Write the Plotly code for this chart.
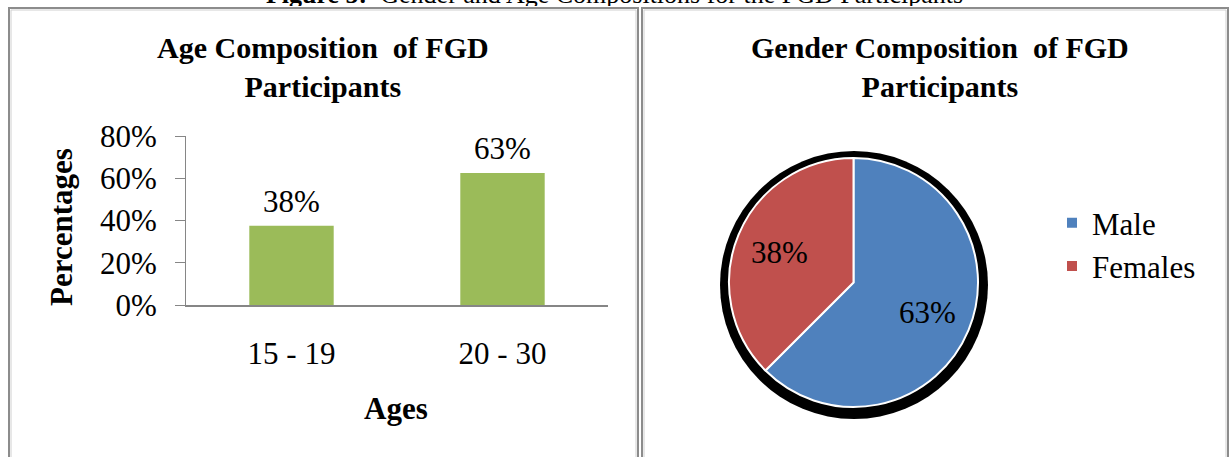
import math
import plotly.graph_objects as go

# ---- data ----
age_groups = ["15 - 19", "20 - 30"]
age_shares = [0.375, 0.625]
gender_labels = ["Male", "Females"]
gender_shares = [62.5, 37.5]
gender_colors = ["#4F81BD", "#C0504D"]
y_ticks = [0, 0.2, 0.4, 0.6, 0.8]
caption = "<b>Figure 5:</b>  Gender and Age Compositions for the FGD Participants"

W, H = 1229, 457
FONT = "Liberation Serif, Times New Roman, serif"

def px(x):
    return x / W

def py(y):
    return 1 - y / H

def pct(v):
    return f"{int(v * 100 + 0.5)}%"

fig = go.Figure()

fig.add_trace(go.Bar(
    x=age_groups, y=age_shares, marker=dict(color="#9BBB59", line=dict(width=0)),
    width=0.4, showlegend=False, hoverinfo="skip",
))

# caption, clipped to a thin strip at the top (only its lower part shows)
fig.add_trace(go.Scatter(
    x=[0.5], y=[-1.1], mode="text", text=[caption], textposition="top center",
    cliponaxis=True, showlegend=False, hoverinfo="skip",
    textfont=dict(family=FONT, size=26, color="black"),
    xaxis="x2", yaxis="y2",
))

# pie geometry (pixels)
PCX, PCY, PR = 853.5, 282.5, 124.5

# shadow behind pie
fig.add_trace(go.Pie(
    values=[1], labels=["shadow"], marker=dict(colors=["#000000"], line=dict(width=0)),
    textinfo="none", showlegend=False, hoverinfo="skip", sort=False,
    domain=dict(x=[px(720), px(988)], y=[py(419), py(151)]),
))

fig.add_trace(go.Pie(
    values=gender_shares, labels=gender_labels,
    marker=dict(colors=gender_colors, line=dict(color="white", width=2)),
    sort=False, direction="clockwise", rotation=0,
    textinfo="none", hoverinfo="skip",
    domain=dict(x=[px(PCX - PR), px(PCX + PR)], y=[py(PCY + PR), py(PCY - PR)]),
))

annotations = []
for cat, v in zip(age_groups, age_shares):
    annotations.append(dict(x=cat, y=v, xref="x", yref="y", text=pct(v), showarrow=False,
                            xanchor="center", yanchor="bottom", yshift=5,
                            font=dict(family=FONT, size=31, color="black")))

# pie slice labels at 0.64 R along each slice's mid-angle
total = sum(gender_shares)
cum = 0.0
for s in gender_shares:
    mid = (cum + s / 2) / total * 2 * math.pi
    cum += s
    lx = PCX + 0.64 * PR * math.sin(mid)
    ly = PCY - 0.64 * PR * math.cos(mid)
    annotations.append(dict(x=px(lx), y=py(ly), xref="paper", yref="paper", showarrow=False,
                            xanchor="center", yanchor="middle", text=pct(s / total),
                            font=dict(family=FONT, size=31, color="black")))

annotations += [
    dict(x=px(323), y=py(67), xref="paper", yref="paper", showarrow=False,
         xanchor="center", yanchor="middle",
         text="<b>Age Composition  of FGD<br>Participants</b>",
         font=dict(family=FONT, size=30, color="black")),
    dict(x=px(940), y=py(67), xref="paper", yref="paper", showarrow=False,
         xanchor="center", yanchor="middle",
         text="<b>Gender Composition  of FGD<br>Participants</b>",
         font=dict(family=FONT, size=30, color="black")),
    dict(x=px(61), y=py(227), xref="paper", yref="paper", showarrow=False, textangle=-90,
         xanchor="center", yanchor="middle",
         text="<b>Percentages</b>", font=dict(family=FONT, size=31, color="black")),
    dict(x=px(396), y=py(408), xref="paper", yref="paper", showarrow=False,
         xanchor="center", yanchor="middle",
         text="<b>Ages</b>", font=dict(family=FONT, size=31, color="black")),
]

shapes = []
for (x0, x1) in [(9, 638), (642, 1228)]:
    for off, col, wd in [(0, "#8C8C8C", 2), (2, "#D0D0D0", 1)]:
        shapes.append(dict(type="path", xref="paper", yref="paper",
                           path=f"M {px(x0 + off)} 0 L {px(x0 + off)} {py(8 + off)} "
                                f"L {px(x1 - off)} {py(8 + off)} L {px(x1 - off)} 0",
                           line=dict(color=col, width=wd)))

fig.update_layout(
    width=W, height=H, margin=dict(l=0, r=0, t=0, b=0, autoexpand=False),
    paper_bgcolor="white", plot_bgcolor="rgba(0,0,0,0)",
    font=dict(family=FONT, size=31, color="black"),
    bargap=0.6,
    xaxis=dict(domain=[px(186), px(608)], showline=True, linecolor="#868686", linewidth=2,
               ticks="", showgrid=False, zeroline=False, ticklabelstandoff=20,
               tickfont=dict(family=FONT, size=31, color="black")),
    yaxis=dict(domain=[py(305), py(136)], range=[0, 0.8], tickvals=y_ticks, tickformat=".0%",
               showline=True, linecolor="#868686", linewidth=1, ticks="outside", ticklen=10,
               tickcolor="#868686", showgrid=False, zeroline=False, ticklabelstandoff=12,
               tickfont=dict(family=FONT, size=31, color="black")),
    xaxis2=dict(domain=[0, 1], range=[0, 1], visible=False, fixedrange=True),
    yaxis2=dict(domain=[py(6), 1], range=[-0.5, 0.5], visible=False, fixedrange=True),
    legend=dict(x=px(1052), y=py(196), xanchor="left", yanchor="top",
                font=dict(family=FONT, size=31, color="black"), bgcolor="rgba(0,0,0,0)"),
    annotations=annotations, shapes=shapes,
)

fig.write_html("out.html", config={"displayModeBar": False},
               post_script="document.body.style.margin='0';")
